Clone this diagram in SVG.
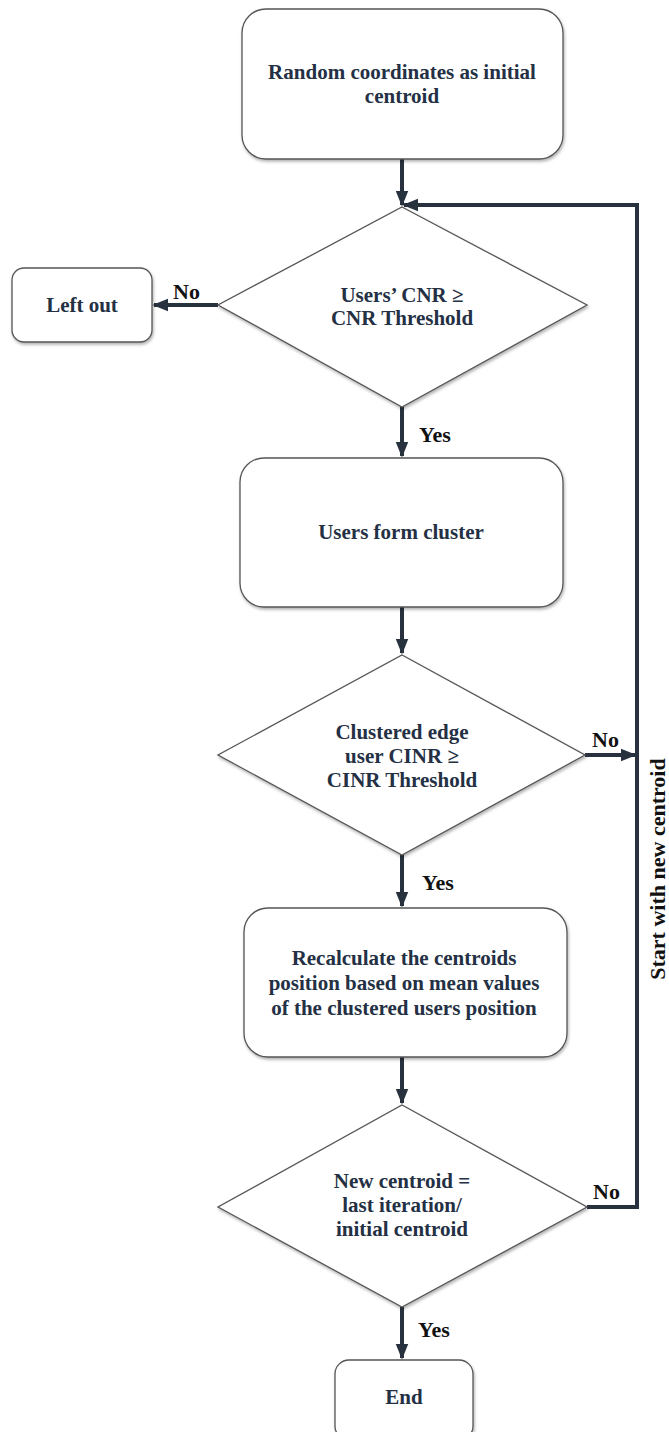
<svg xmlns="http://www.w3.org/2000/svg" width="669" height="1432" viewBox="0 0 669 1432">
<style>
.node{fill:#fff;stroke:#555;stroke-width:1.3;filter:url(#sh)}
.t{font-family:"Liberation Serif","Times New Roman",serif;font-weight:bold;font-size:21px;fill:#243044;text-anchor:middle}
.lbl{font-family:"Liberation Serif","Times New Roman",serif;font-weight:bold;font-size:22px;fill:#111}
.c{fill:none;stroke:#28323e;stroke-width:4}
</style>
<defs>
<filter id="sh" x="-10%" y="-10%" width="120%" height="120%"><feDropShadow dx="1" dy="2" stdDeviation="1.5" flood-color="#000" flood-opacity="0.3"/></filter>
<marker id="ah" viewBox="0 0 10 10" refX="9" refY="5" markerWidth="4" markerHeight="4" orient="auto" markerUnits="strokeWidth"><path d="M0,1 L10,5 L0,9 z" fill="#28323e"/></marker>
</defs>
<g id="connectors">
<path class="c" d="M402,159 V205" marker-end="url(#ah)"/>
<path class="c" d="M218,305 H154" marker-end="url(#ah)"/>
<path class="c" d="M402,407 V456" marker-end="url(#ah)"/>
<path class="c" d="M402,607 V653" marker-end="url(#ah)"/>
<path class="c" d="M585,755 H635" marker-end="url(#ah)"/>
<path class="c" d="M402,855 V906" marker-end="url(#ah)"/>
<path class="c" d="M402,1057 V1103" marker-end="url(#ah)"/>
<path class="c" d="M587,1207 H637 V205 H404" marker-end="url(#ah)"/>
<path class="c" d="M402,1307 V1358" marker-end="url(#ah)"/>
<text class="lbl" x="173" y="299">No</text>
<text class="lbl" x="419" y="442">Yes</text>
<text class="lbl" x="592" y="747">No</text>
<text class="lbl" x="422" y="890">Yes</text>
<text class="lbl" x="593" y="1199">No</text>
<text class="lbl" x="418" y="1337">Yes</text>
<text class="lbl" transform="translate(665,869) rotate(-90)" text-anchor="middle">Start with new centroid</text>
</g>
<g id="n1"><rect class="node" x="242" y="9" width="321" height="150" rx="24"/>
<text class="t" x="402" y="79">Random coordinates as initial</text>
<text class="t" x="402" y="103">centroid</text></g>
<g id="n2"><polygon class="node" points="402,207 587,305 402,407 218,305"/>
<text class="t" x="402" y="302">Users’ CNR ≥</text>
<text class="t" x="402" y="325">CNR Threshold</text></g>
<g id="n3"><rect class="node" x="12" y="268" width="140" height="74" rx="12"/>
<text class="t" x="82" y="312">Left out</text></g>
<g id="n4"><rect class="node" x="240" y="458" width="323" height="149" rx="24"/>
<text class="t" x="401" y="539">Users form cluster</text></g>
<g id="n5"><polygon class="node" points="402,655 585,755 402,855 218,755"/>
<text class="t" x="402" y="739">Clustered edge</text>
<text class="t" x="402" y="763">user CINR ≥</text>
<text class="t" x="402" y="787">CINR Threshold</text></g>
<g id="n6"><rect class="node" x="244" y="908" width="323" height="149" rx="24"/>
<text class="t" x="404" y="965">Recalculate the centroids</text>
<text class="t" x="404" y="990">position based on mean values</text>
<text class="t" x="404" y="1015">of the clustered users position</text></g>
<g id="n7"><polygon class="node" points="402,1105 587,1207 402,1307 218,1207"/>
<text class="t" x="402" y="1188">New centroid =</text>
<text class="t" x="402" y="1212">last iteration/</text>
<text class="t" x="402" y="1236">initial centroid</text></g>
<g id="n8"><rect class="node" x="335" y="1360" width="138" height="80" rx="14"/>
<text class="t" x="404" y="1404">End</text></g>
</svg>
